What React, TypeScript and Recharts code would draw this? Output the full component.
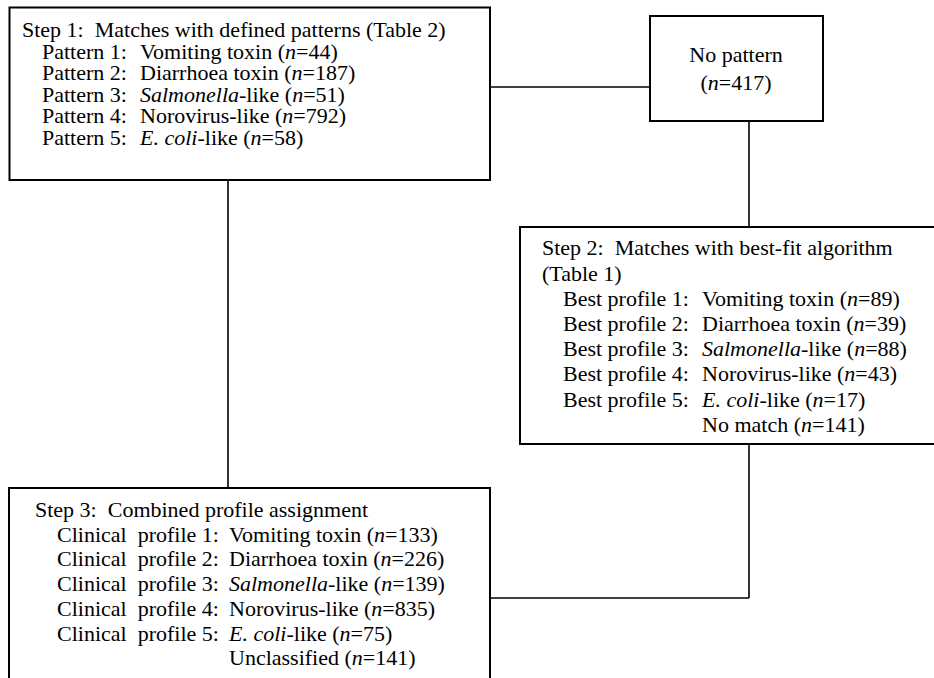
import React from 'react';
import { ScatterChart, Scatter, XAxis, YAxis, ReferenceArea, ReferenceLine } from 'recharts';

const W = 934;
const H = 678;
const FONT = '"Liberation Serif", "Times New Roman", serif';

// data
const agentItalic = ['', '', 'Salmonella', '', 'E. coli'];
const agentPlain = ['Vomiting toxin', 'Diarrhoea toxin', '-like', 'Norovirus-like', '-like'];
const patternLabels = ['Pattern 1:', 'Pattern 2:', 'Pattern 3:', 'Pattern 4:', 'Pattern 5:'];
const bestLabels = ['Best profile 1:', 'Best profile 2:', 'Best profile 3:', 'Best profile 4:', 'Best profile 5:'];
const clinicalLabels = ['Clinical  profile 1:', 'Clinical  profile 2:', 'Clinical  profile 3:', 'Clinical  profile 4:', 'Clinical  profile 5:'];
const patternCounts = [44, 187, 51, 792, 58];
const bestFitCounts = [89, 39, 88, 43, 17];
const clinicalCounts = [133, 226, 139, 835, 75];
const noPatternCount = 417;
const noMatchCount = 141;
const unclassifiedCount = 141;

// layout of the boxes and connectors (diagram units = px)
const boxes = [
  { x1: 9.5, x2: 490, y1: 7.5, y2: 180 },
  { x1: 650, x2: 823, y1: 16, y2: 121 },
  { x1: 520, x2: 945, y1: 227, y2: 444 },
  { x1: 9, x2: 490, y1: 488, y2: 700 },
];
const links = [
  [{ x: 490, y: 87 }, { x: 650, y: 87 }],
  [{ x: 749, y: 121 }, { x: 749, y: 227 }],
  [{ x: 228, y: 180 }, { x: 228, y: 488 }],
  [{ x: 749, y: 444 }, { x: 749, y: 598 }],
  [{ x: 490, y: 598 }, { x: 749, y: 598 }],
];

type Part = { t: string; i?: boolean; dx?: number };
type Item = { x: number; y: number; anchor?: string; parts: Part[] };

const countParts = (n: number): Part[] => [{ t: ' (' }, { t: 'n', i: true }, { t: '=' + n + ')' }];
const agentParts = (k: number): Part[] =>
  agentItalic[k] ? [{ t: agentItalic[k], i: true }, { t: agentPlain[k] }] : [{ t: agentPlain[k] }];

// one text element per row: label, then value column placed by offset
const row = (x: number, y: number, label: string, valueX: number, value: Part[]): Item => {
  const parts: Part[] = [];
  if (label) parts.push({ t: label });
  parts.push({ ...value[0], dx: valueX - x });
  value.slice(1).forEach((p) => parts.push(p));
  return { x, y, parts };
};

const items: Item[] = [];

// Step 1
items.push({ x: 22, y: 37, parts: [{ t: 'Step 1:  Matches with defined patterns (Table 2)' }] });
patternLabels.forEach((lab, k) => {
  items.push(row(42, 37 + 21.5 * (k + 1), lab, 140, [...agentParts(k), ...countParts(patternCounts[k])]));
});

// No pattern
items.push({ x: 736, y: 62, anchor: 'middle', parts: [{ t: 'No pattern' }] });
items.push({ x: 736, y: 90, anchor: 'middle', parts: [{ t: '(' }, { t: 'n', i: true }, { t: '=' + noPatternCount + ')' }] });

// Step 2
items.push({ x: 542, y: 255, parts: [{ t: 'Step 2:  Matches with best-fit algorithm' }] });
items.push({ x: 542, y: 280.5, parts: [{ t: '(Table 1)' }] });
bestLabels.forEach((lab, k) => {
  items.push(row(563, 280.5 + 25.2 * (k + 1), lab, 702, [...agentParts(k), ...countParts(bestFitCounts[k])]));
});
items.push({ x: 702, y: 280.5 + 25.2 * 6, parts: [{ t: 'No match' }, ...countParts(noMatchCount)] });

// Step 3
items.push({ x: 35, y: 517, parts: [{ t: 'Step 3:  Combined profile assignment' }] });
clinicalLabels.forEach((lab, k) => {
  items.push(row(57, 517 + 24.7 * (k + 1), lab, 229, [...agentParts(k), ...countParts(clinicalCounts[k])]));
});
items.push({ x: 229, y: 517 + 24.7 * 6, parts: [{ t: 'Unclassified' }, ...countParts(unclassifiedCount)] });

const renderText = (props: any) => {
  const { cx, cy, payload } = props;
  if (cx == null || cy == null) return <g />;
  return (
    <text
      x={cx}
      y={cy}
      fontFamily={FONT}
      fontSize={22}
      fill="#000"
      textAnchor={payload.anchor || 'start'}
      style={{ whiteSpace: 'pre' }}
    >
      {payload.parts.map((p: Part, i: number) => (
        <tspan key={i} x={p.dx != null ? cx + p.dx : undefined} fontStyle={p.i ? 'italic' : 'normal'}>
          {p.t}
        </tspan>
      ))}
    </text>
  );
};

export default function App() {
  return (
    <div style={{ position: 'absolute', left: 0, top: 0, width: W, height: H, background: '#fff' }}>
      <ScatterChart width={W} height={H} margin={{ top: 0, right: 0, bottom: 0, left: 0 }}>
        <XAxis type="number" dataKey="x" domain={[0, W]} hide allowDataOverflow />
        <YAxis type="number" dataKey="y" domain={[0, H]} reversed hide allowDataOverflow />
        {links.map((seg, i) => (
          <ReferenceLine key={'l' + i} segment={seg} stroke="#000" strokeWidth={1.6} ifOverflow="visible" />
        ))}
        {boxes.map((b, i) => (
          <ReferenceArea
            key={'b' + i}
            x1={b.x1}
            x2={b.x2}
            y1={b.y1}
            y2={b.y2}
            fill="#fff"
            fillOpacity={1}
            stroke="#000"
            strokeWidth={2}
            ifOverflow="hidden"
          />
        ))}
        <Scatter data={items} dataKey="y" shape={renderText} isAnimationActive={false} />
      </ScatterChart>
    </div>
  );
}
